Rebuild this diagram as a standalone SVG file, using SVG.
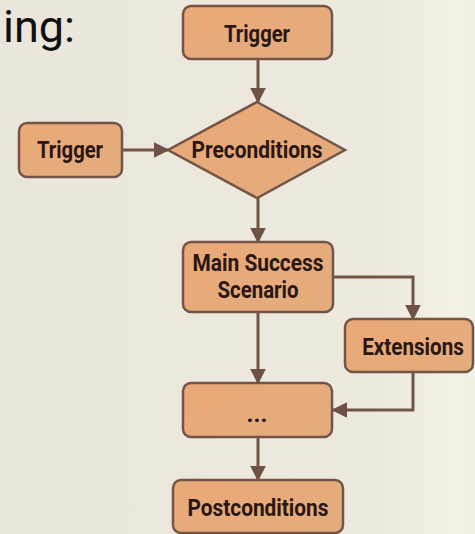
<svg xmlns="http://www.w3.org/2000/svg" width="475" height="534" viewBox="0 0 475 534">
  <defs>
    <linearGradient id="bg" x1="0" y1="0" x2="1" y2="0">
      <stop offset="0" stop-color="#ebe6dc"/>
      <stop offset="0.8" stop-color="#ede9df"/>
      <stop offset="0.95" stop-color="#f3f0e4"/>
      <stop offset="1" stop-color="#f2efe4"/>
    </linearGradient>
    <linearGradient id="nodeFill" x1="0" y1="0" x2="1" y2="1">
      <stop offset="0" stop-color="#eaa977"/>
      <stop offset="1" stop-color="#e4ac7e"/>
    </linearGradient>
    <marker id="arrow" viewBox="0 0 10 10" refX="9" refY="5" markerWidth="16" markerHeight="16" markerUnits="userSpaceOnUse" orient="auto">
      <path d="M0,0 L10,5 L0,10 Z" fill="#6e5246"/>
    </marker>
    <style>
      .node { fill: url(#nodeFill); stroke: #735548; stroke-width: 2.5; }
      .label { font-family: "Roboto", "Liberation Sans", sans-serif; font-weight: bold; font-size: 24px; fill: #2a1612; text-anchor: middle; }
      .edge { fill: none; stroke: #735548; stroke-width: 3; marker-end: url(#arrow); }
    </style>
  </defs>
  <rect x="0" y="0" width="475" height="534" fill="url(#bg)"/>

  <!-- heading fragment at the top left -->
  <text x="3" y="42" font-family="Roboto, 'Liberation Sans', sans-serif" font-size="45" fill="#111">ing:</text>

  <!-- connectors -->
  <g id="connectors">
    <path class="edge" d="M258,59 V102"/>
    <path class="edge" d="M122,150 H168"/>
    <path class="edge" d="M258,198 V242"/>
    <path class="edge" d="M333,277 H413 V319"/>
    <path class="edge" d="M258,312 V383"/>
    <path class="edge" d="M413,372 V410 H333"/>
    <path class="edge" d="M258,437 V480"/>
  </g>

  <g id="trigger-top">
    <rect class="node" x="183" y="6" width="149" height="53" rx="8"/>
    <text class="label" x="257" y="42" textLength="66" lengthAdjust="spacingAndGlyphs">Trigger</text>
  </g>

  <g id="trigger-left">
    <rect class="node" x="19" y="123" width="103" height="54" rx="8"/>
    <text class="label" x="70" y="158" textLength="66" lengthAdjust="spacingAndGlyphs">Trigger</text>
  </g>

  <g id="preconditions">
    <polygon class="node" points="257,102 345,150 257,198 168,150"/>
    <text class="label" x="257" y="158" textLength="131" lengthAdjust="spacingAndGlyphs">Preconditions</text>
  </g>

  <g id="main-success">
    <rect class="node" x="183" y="242" width="150" height="70" rx="8"/>
    <text class="label" x="258" y="271" textLength="131" lengthAdjust="spacingAndGlyphs">Main Success</text>
    <text class="label" x="258" y="298" textLength="81" lengthAdjust="spacingAndGlyphs">Scenario</text>
  </g>

  <g id="extensions">
    <rect class="node" x="345" y="319" width="128" height="53" rx="8"/>
    <!-- condensed horizontally to fit the narrow box -->
    <text class="label" transform="translate(413,355) scale(0.86,1)" x="0" y="0">Extensions</text>
  </g>

  <g id="ellipsis">
    <rect class="node" x="183" y="383" width="149" height="54" rx="8"/>
    <text class="label" x="257" y="422" font-size="26px">...</text>
  </g>

  <g id="postconditions">
    <rect class="node" x="173" y="480" width="170" height="53" rx="8"/>
    <text class="label" x="258" y="516" textLength="141" lengthAdjust="spacingAndGlyphs">Postconditions</text>
  </g>
</svg>
